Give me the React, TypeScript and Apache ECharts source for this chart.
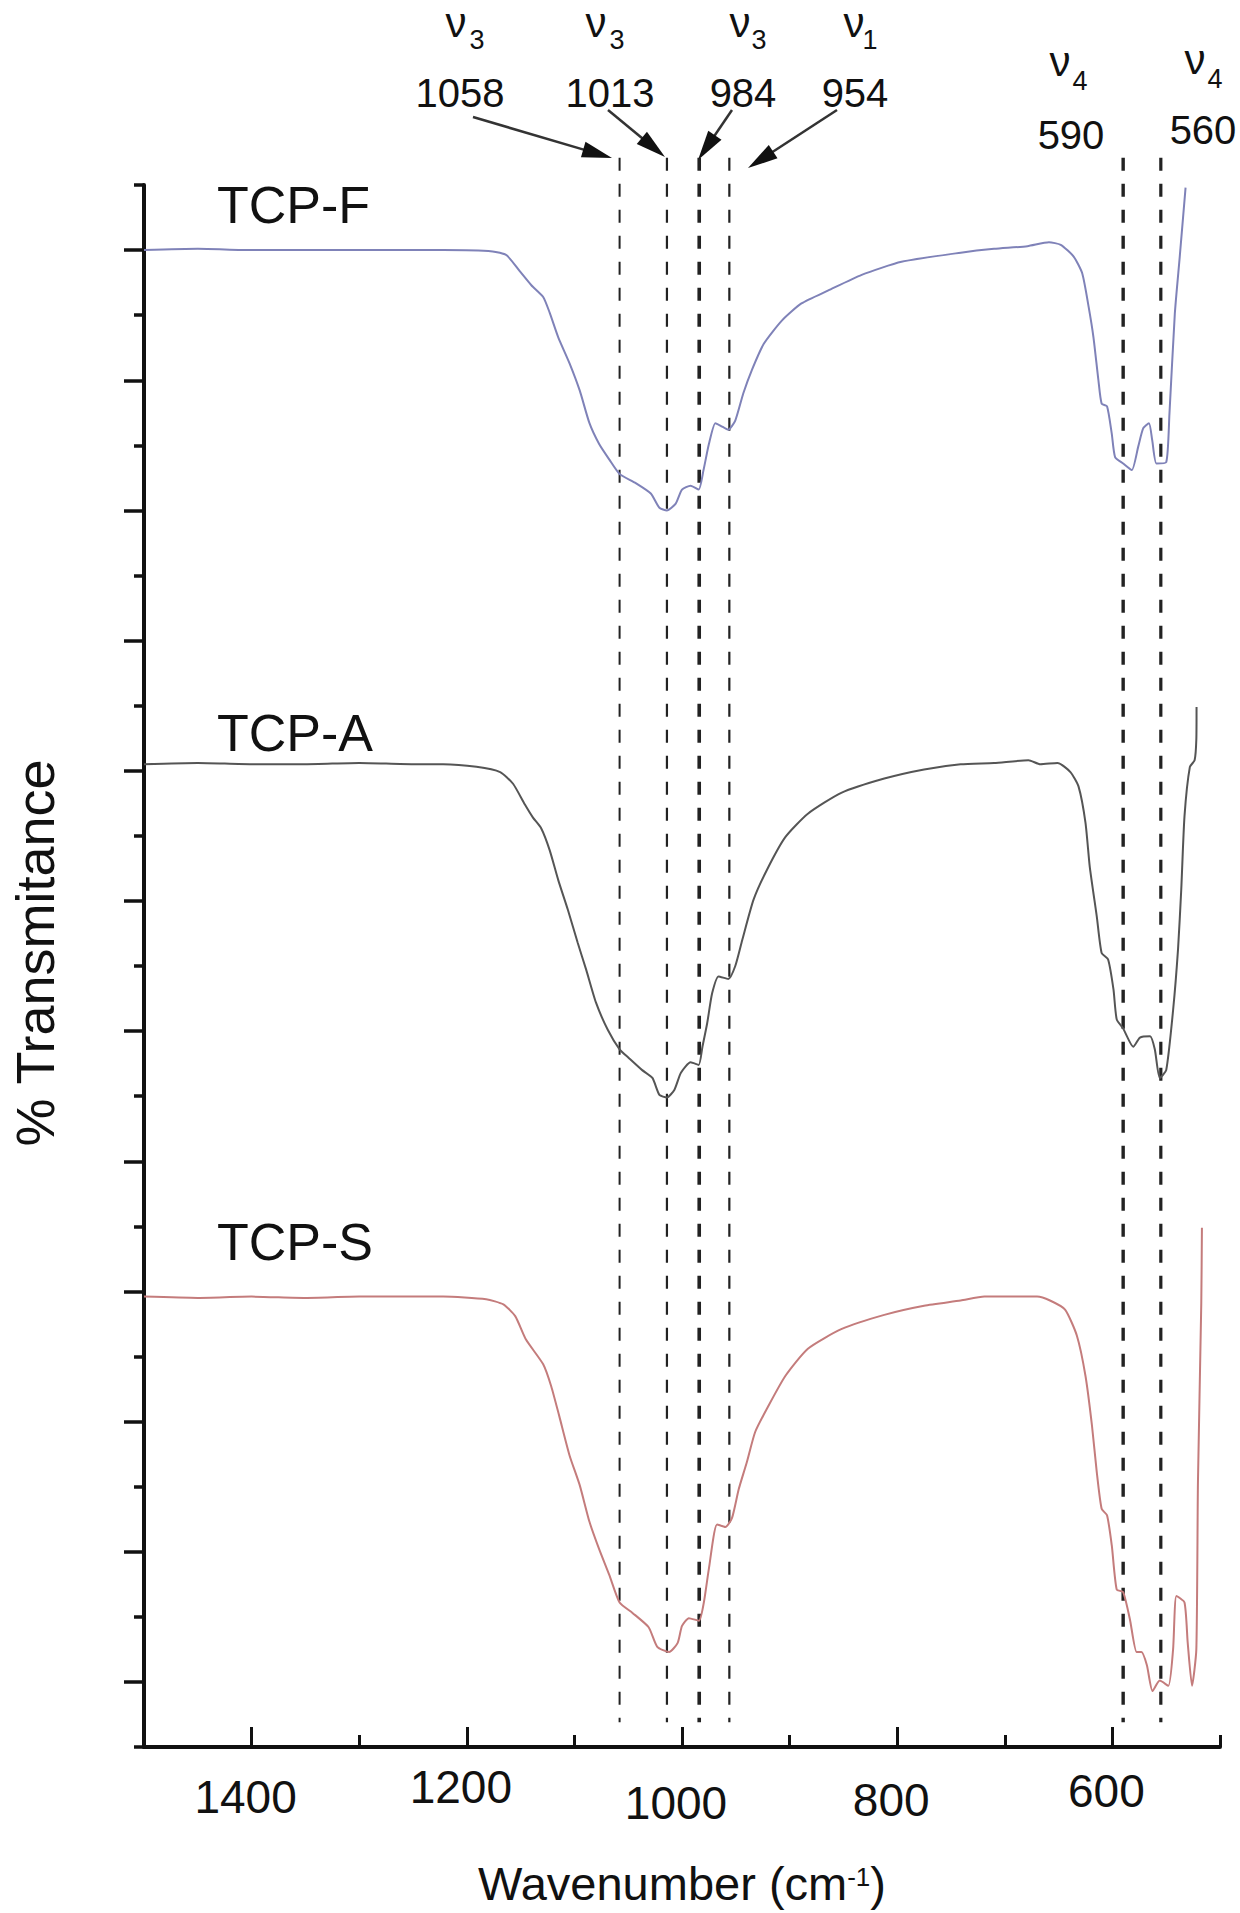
import React, { useEffect, useRef } from 'react';
import * as echarts from 'echarts';

// ---- data (wavenumber cm-1, relative transmittance in tick units) ----
const tcpF: [number, number][] = [
  [1500, 11.0], [1450, 11.01], [1400, 11.0], [1350, 11.0], [1300, 11.0], [1250, 11.0], [1222, 11.0],
  [1176, 10.99], [1163, 10.96], [1151, 10.84], [1140, 10.73], [1129, 10.64], [1123, 10.52], [1115, 10.33],
  [1104.5, 10.13], [1095, 9.92], [1086, 9.67], [1077, 9.51], [1067.5, 9.39], [1058, 9.28], [1043, 9.21],
  [1029, 9.13], [1021, 9.02], [1014, 9.0], [1006, 9.05], [1000, 9.16], [992, 9.19], [984.5, 9.16],
  [980, 9.31], [975, 9.51], [969, 9.67], [964, 9.65], [957, 9.62], [950.5, 9.69], [943, 9.9], [935, 10.08],
  [924, 10.28], [907, 10.46], [889, 10.59], [864, 10.69], [833, 10.81], [796, 10.91], [741, 10.98],
  [710, 11.01], [679, 11.03], [659, 11.06], [648, 11.04], [636, 10.95], [628, 10.82], [622, 10.56],
  [617.6, 10.33], [613, 10.0], [610, 9.82], [605, 9.8], [600.6, 9.59], [597.5, 9.41], [590, 9.36],
  [582, 9.31], [576, 9.49], [571.4, 9.63], [566, 9.67], [563, 9.54], [559, 9.36], [550, 9.37],
  [547, 9.74], [542, 10.51], [537.4, 10.95], [532, 11.48],
];

const tcpA: [number, number][] = [
  [1500, 7.05], [1450, 7.06], [1400, 7.05], [1350, 7.05], [1300, 7.06], [1250, 7.05], [1222, 7.05],
  [1191, 7.03], [1169, 6.99], [1157, 6.9], [1146, 6.74], [1138.5, 6.64], [1131, 6.56], [1123, 6.39],
  [1115, 6.16], [1106, 5.93], [1097, 5.68], [1089, 5.47], [1080, 5.22], [1069, 5.01], [1058, 4.86],
  [1049, 4.79], [1037, 4.7], [1027.5, 4.64], [1021, 4.51], [1014, 4.49], [1007, 4.55], [1001, 4.68],
  [992, 4.76], [984.5, 4.74], [981, 4.88], [976.6, 5.06], [972, 5.29], [966, 5.42], [957, 5.4],
  [950.5, 5.5], [944, 5.7], [933.5, 6.01], [921, 6.24], [904, 6.49], [883, 6.67], [852, 6.83],
  [812, 6.94], [775, 7.01], [741, 7.05], [710, 7.06], [678, 7.08], [667, 7.05], [651, 7.06],
  [639, 6.99], [631.5, 6.88], [625, 6.6], [621, 6.26], [614.5, 5.88], [610, 5.6], [604, 5.55],
  [599, 5.32], [596, 5.09], [590, 5.02], [580.6, 4.88], [574.4, 4.95], [565, 4.96], [560.6, 4.86],
  [556, 4.64], [550, 4.7], [543.6, 5.16], [539, 5.63], [536, 6.09], [533, 6.65], [528, 7.03],
  [523.6, 7.08], [522, 7.24], [521.8, 7.49],
];

const tcpS: [number, number][] = [
  [1500, 2.96], [1450, 2.95], [1400, 2.96], [1350, 2.95], [1300, 2.96], [1250, 2.96], [1222, 2.96],
  [1182, 2.94], [1166, 2.9], [1155, 2.81], [1145, 2.63], [1129, 2.44], [1121.5, 2.27], [1114, 2.04],
  [1104.5, 1.74], [1095, 1.51], [1086, 1.23], [1077, 1.02], [1067.5, 0.82], [1058, 0.61], [1046, 0.53],
  [1031, 0.42], [1023, 0.27], [1012, 0.23], [1004, 0.3], [1000, 0.43], [993.6, 0.49], [984.3, 0.47],
  [979.7, 0.61], [975, 0.87], [967.4, 1.21], [959.7, 1.19], [953.5, 1.26], [947.3, 1.48], [939.7, 1.69],
  [932, 1.92], [921, 2.1], [904, 2.35], [883, 2.56], [852, 2.71], [812, 2.82], [775, 2.89], [741, 2.93],
  [719, 2.96], [670, 2.96], [658, 2.93], [644, 2.86], [633, 2.66], [625, 2.35], [619, 1.97],
  [614.5, 1.61], [610, 1.33], [605, 1.28], [600.6, 1.05], [596, 0.71], [590, 0.69], [583.7, 0.48],
  [577.5, 0.23], [573, 0.23], [568, 0.13], [562.7, -0.07], [556, 0.01], [548, -0.03], [543.6, 0.25],
  [540.5, 0.66], [533, 0.61], [530, 0.3], [526, -0.03], [522, 0.25], [520.5, 1.53], [517.4, 2.91],
  [516.8, 3.49],
];

const seriesNames = ['TCP-F', 'TCP-A', 'TCP-S'];
const xTickLabels = [1400, 1200, 1000, 800, 600];

// dashed reference lines (wavenumber) and their stroke widths
const peakLines = [1058, 1014, 984, 956, 590, 555];
const peakLineWidths = [2, 2.2, 3.6, 2.2, 3.4, 3.2];

// band annotations
const bandSymbols = ['ν', 'ν', 'ν', 'ν', 'ν', 'ν'];
const bandSubs = ['3', '3', '3', '1', '4', '4'];
const bandNumbers = ['1058', '1013', '984', '954', '590', '560'];

const FONT = '"Liberation Sans", Arial, Helvetica, sans-serif';
const INK = '#111111';

// layout (pixel) positions for annotations
const symbolPos = [[456, 22], [596, 22], [740, 22], [854, 22], [1060, 61], [1195, 59]];
const subPos = [[477, 40], [617, 40], [759, 40], [870, 40], [1080, 81], [1215, 79]];
const numberPos = [[460, 93], [610, 93], [743, 93], [855, 93], [1071, 135], [1203, 130]];
const arrowPos = [
  [473, 117, 612, 158],
  [608, 110, 665, 157],
  [732, 110, 698, 160],
  [837, 110, 748, 168],
];
const namePos = [[217, 205], [217, 733], [217, 1242]];
// small vertical offsets of the printed tick labels (px, top padding)
const xLabelPad: Record<string, number> = { '1400': 10, '1200': 0, '1000': 16, '800': 13, '600': 4 };

function arrow(x1: number, y1: number, x2: number, y2: number) {
  const dx = x2 - x1;
  const dy = y2 - y1;
  const len = Math.sqrt(dx * dx + dy * dy);
  const ux = dx / len;
  const uy = dy / len;
  const nx = -uy;
  const ny = ux;
  const L = 30;
  const W = 8;
  const bx = x2 - ux * L;
  const by = y2 - uy * L;
  return [
    {
      type: 'line',
      shape: { x1, y1, x2: bx + ux * 4, y2: by + uy * 4 },
      style: { stroke: '#333', lineWidth: 2.5 },
    },
    {
      type: 'polygon',
      shape: { points: [[x2, y2], [bx + nx * W, by + ny * W], [bx - nx * W, by - ny * W]] },
      style: { fill: '#111' },
    },
  ];
}

function textEl(text: string, x: number, y: number, size: number, align = 'center') {
  return {
    type: 'text',
    x,
    y,
    style: {
      text,
      fontSize: size,
      fontFamily: FONT,
      fill: INK,
      align,
      verticalAlign: 'middle',
      textAlign: align,
      textVerticalAlign: 'middle',
    },
  };
}

export default function App() {
  const ref = useRef<HTMLDivElement>(null);

  useEffect(() => {
    if (!ref.current) return;
    const chart = echarts.init(ref.current, undefined, { renderer: 'svg' });

    const graphics: any[] = [];
    seriesNames.forEach((n, i) => graphics.push(textEl(n, namePos[i][0], namePos[i][1], 52, 'left')));
    bandSymbols.forEach((s, i) => {
      graphics.push(textEl(s, symbolPos[i][0], symbolPos[i][1], 42));
      graphics.push(textEl(bandSubs[i], subPos[i][0], subPos[i][1], 27));
      graphics.push(textEl(bandNumbers[i], numberPos[i][0], numberPos[i][1], 40));
    });
    arrowPos.forEach((a) => graphics.push(...arrow(a[0], a[1], a[2], a[3])));

    const colors = ['#7f82b8', '#555555', '#c47c7c'];
    const datasets = [tcpF, tcpA, tcpS];

    const labelRich: any = {};
    Object.keys(xLabelPad).forEach((k) => {
      labelRich['l' + k] = {
        fontSize: 46,
        fontFamily: FONT,
        color: INK,
        padding: [xLabelPad[k], 0, 0, 0],
      };
    });

    const option: any = {
      animation: false,
      backgroundColor: '#ffffff',
      grid: { left: 139, top: 185, right: 20, bottom: 166, containLabel: false },
      xAxis: {
        type: 'value',
        min: 500,
        max: 1500,
        interval: 200,
        inverse: true,
        axisLine: { show: true, onZero: false, lineStyle: { color: INK, width: 4 } },
        axisTick: { show: true, inside: true, length: 12, lineStyle: { color: INK, width: 3 } },
        minorTick: { show: true, splitNumber: 2, length: 20, lineStyle: { color: INK, width: 3 } },
        splitLine: { show: false },
        minorSplitLine: { show: false },
        axisLabel: {
          customValues: xTickLabels,
          margin: 17,
          fontSize: 46,
          fontFamily: FONT,
          color: INK,
          padding: [0, 12, 0, 0],
          formatter: (v: number) => {
            const k = String(Math.round(v));
            return xLabelPad[k] !== undefined ? `{l${k}|${k}}` : k;
          },
          rich: labelRich,
        },
        name: 'Wavenumber (cm{sup|-1})',
        nameLocation: 'middle',
        nameGap: 113,
        nameTextStyle: {
          fontSize: 47,
          lineHeight: 47,
          fontFamily: FONT,
          color: INK,
          rich: {
            sup: { fontSize: 26, lineHeight: 26, fontFamily: FONT, color: INK, verticalAlign: 'top', padding: [4, 0, 0, 0] },
          },
        },
      },
      yAxis: {
        type: 'value',
        min: -0.5,
        max: 11.5,
        interval: 1,
        axisLine: { show: true, onZero: false, lineStyle: { color: INK, width: 4 } },
        axisTick: { show: true, inside: false, length: 10, lineStyle: { color: INK, width: 3.5 } },
        minorTick: { show: true, splitNumber: 2, length: 20, lineStyle: { color: INK, width: 3.5 } },
        splitLine: { show: false },
        minorSplitLine: { show: false },
        axisLabel: { show: false },
        name: '% Transmitance',
        nameLocation: 'middle',
        nameRotate: 90,
        nameGap: 82,
        nameTextStyle: { fontSize: 54, fontFamily: FONT, color: INK, padding: [0, 0, 0, 26] },
      },
      series: [
        ...datasets.map((d, i) => ({
          name: seriesNames[i],
          type: 'line',
          data: d,
          showSymbol: false,
          symbol: 'none',
          smooth: 0.2,
          lineStyle: { color: colors[i], width: 2 },
          z: 3,
        })),
        {
          type: 'custom',
          name: 'peaks',
          data: peakLines.map((w, i) => [w, peakLineWidths[i]]),
          clip: false,
          z: 2,
          renderItem: (_params: any, api: any) => {
            const w = api.value(0);
            const lw = api.value(1);
            const a = api.coord([w, 11.71]);
            const b = api.coord([w, -0.31]);
            return {
              type: 'line',
              shape: { x1: a[0], y1: a[1], x2: b[0], y2: b[1] },
              style: { stroke: '#222', lineWidth: lw, lineDash: [13, 13] },
            };
          },
        },
      ],
      graphic: { elements: graphics },
    };

    chart.setOption(option);
    return () => chart.dispose();
  }, []);

  return (
    <div
      ref={ref}
      style={{ position: 'absolute', left: 0, top: 0, width: 1240, height: 1913, background: '#fff' }}
    />
  );
}
